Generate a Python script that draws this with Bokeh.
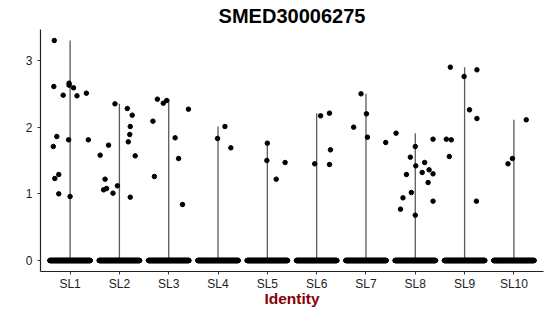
from bokeh.plotting import figure
from bokeh.models import Range1d, FixedTicker
from bokeh.embed import file_html
from bokeh.resources import INLINE
import numpy as np

clusters = ["SL1", "SL2", "SL3", "SL4", "SL5", "SL6", "SL7", "SL8", "SL9", "SL10"]
y_ticks = [0, 1, 2, 3]

# cells with zero expression per cluster (drawn as the dense band at 0)
zero_counts = [150, 150, 150, 150, 150, 150, 150, 150, 150, 150]

# non-zero cells: cluster index, expression value, horizontal jitter (category units)
pt_cluster = [0]*16 + [1]*15 + [2]*9 + [3]*3 + [4]*4 + [5]*5 + [6]*5 + [7]*16 + [8]*9 + [9]*3
pt_expr = [
    3.30, 2.61, 2.48, 2.66, 2.63, 2.59, 2.47, 2.51, 1.86, 1.81, 1.81, 1.71, 1.29, 1.23, 1.00, 0.96,
    2.35, 2.28, 2.18, 2.01, 1.89, 1.78, 1.73, 1.58, 1.57, 1.22, 1.06, 1.08, 1.01, 1.12, 0.95,
    2.42, 2.36, 2.40, 2.27, 2.09, 1.84, 1.53, 1.26, 0.84,
    2.01, 1.83, 1.69,
    1.76, 1.50, 1.22, 1.47,
    2.21, 2.17, 1.66, 1.45, 1.44,
    2.50, 2.20, 2.00, 1.85, 1.77,
    1.91, 1.82, 1.71, 1.55, 1.42, 1.29, 1.47, 1.32, 1.36, 1.30, 1.17, 1.02, 0.94, 0.89, 0.77, 0.68,
    2.90, 2.86, 2.76, 2.26, 2.13, 1.82, 1.81, 1.56, 0.89,
    2.11, 1.45, 1.53,
]
pt_jitter = [
    -0.32, -0.33, -0.14, -0.02, -0.02, 0.07, 0.14, 0.33, -0.27, -0.03, 0.37, -0.34, -0.23, -0.31, -0.23, 0.00,
    -0.09, 0.16, 0.26, 0.22, 0.21, 0.18, -0.22, -0.39, 0.32, -0.29, -0.32, -0.26, -0.13, -0.04, 0.22,
    -0.23, -0.11, -0.04, 0.40, -0.32, 0.13, 0.20, -0.29, 0.28,
    0.14, -0.01, 0.26,
    0.00, -0.01, 0.18, 0.36,
    0.26, 0.08, 0.28, -0.04, 0.26,
    -0.10, 0.01, -0.25, 0.03, 0.40,
    -0.39, 0.36, 0.00, -0.10, 0.01, -0.18, 0.19, 0.14, 0.28, 0.36, 0.26, -0.08, -0.25, 0.36, -0.30, 0.00,
    -0.29, 0.25, -0.01, 0.10, 0.25, -0.37, -0.27, -0.31, 0.24,
    0.25, -0.12, -0.03,
]

# ---- build plotting tables from the data ----
pos = np.arange(1, len(clusters) + 1)
cl = np.array(pt_cluster)
ex = np.array(pt_expr)
jit = np.array(pt_jitter)

vmax = [ex[cl == i].max() for i in range(len(clusters))]

zx, zy = [], []
for i, n in enumerate(zero_counts):
    zx.extend(list(pos[i] + np.linspace(-0.41, 0.41, n)))
    zy.extend([0.0] * n)

p = figure(width=550, height=316, output_backend="svg", toolbar_location=None,
           x_range=Range1d(0.4, 10.6), y_range=Range1d(-0.165, 3.465),
           min_border_left=40, min_border_right=7, min_border_top=28, min_border_bottom=45,
           title="SMED30006275")
p.outline_line_color = None
p.background_fill_color = "white"
p.border_fill_color = "white"
p.xgrid.visible = False
p.ygrid.visible = False

p.title.align = "center"
p.title.text_font = "Liberation Sans"
p.title.text_font_size = "20px"
p.title.text_font_style = "bold"
p.title.text_color = "black"
p.title.standoff = 5

# violins (degenerate: thin lines from 0 to max)
p.segment(x0=pos, y0=[0]*len(pos), x1=pos, y1=vmax, line_color="#5a5a5a", line_width=1.3)

# zero band
p.scatter(zx, zy, size=4.5, color="black")
# non-zero points
p.scatter(pos[cl] + jit, ex, size=4.5, color="black")

xa = p.xaxis[0]
ya = p.yaxis[0]
xa.ticker = FixedTicker(ticks=list(pos))
xa.major_label_overrides = {int(k): v for k, v in zip(pos, clusters)}
ya.ticker = FixedTicker(ticks=y_ticks)
for ax in (xa, ya):
    ax.minor_tick_line_color = None
    ax.major_tick_in = 0
    ax.major_tick_out = 3
    ax.major_tick_line_color = "#333333"
    ax.axis_line_color = "#222222"
    ax.axis_line_width = 1.2
    ax.major_label_text_font = "Liberation Sans"
    ax.major_label_text_font_size = "12px"
    ax.major_label_text_color = "#222222"
xa.major_label_standoff = 2
ya.major_label_standoff = 5

xa.axis_label = "Identity"
xa.axis_label_text_font = "Liberation Sans"
xa.axis_label_text_font_size = "15.5px"
xa.axis_label_text_font_style = "bold"
xa.axis_label_text_color = "#8B0000"
xa.axis_label_standoff = -4

open("out.html", "w").write(file_html(p, INLINE))
